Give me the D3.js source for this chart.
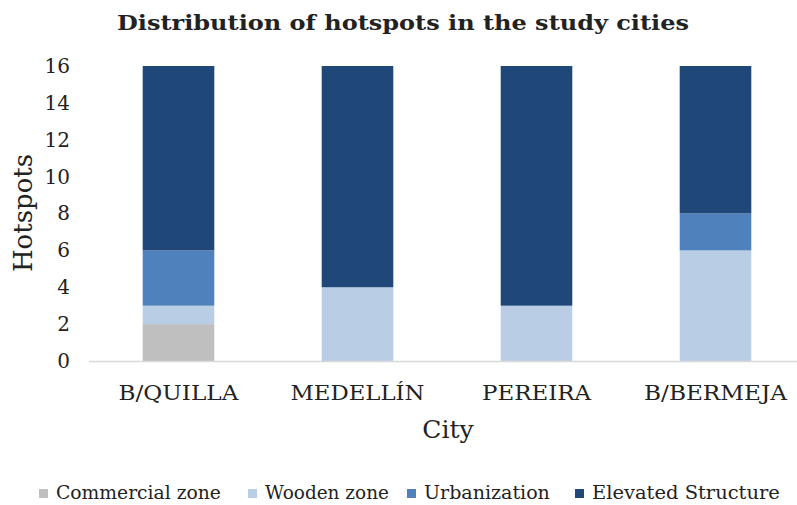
<!DOCTYPE html>
<html>
<head>
<meta charset="utf-8">
<script src="https://cdn.jsdelivr.net/npm/d3@7"></script>
<style>
  body { margin: 0; background: #fff; }
  svg { display: block; }
  text { font-family: "DejaVu Serif", serif; fill: #222; }
</style>
</head>
<body>
<svg id="chart"></svg>
<script>
const width = 797;
const height = 505;

// data
const cities = ["B/QUILLA", "MEDELLÍN", "PEREIRA", "B/BERMEJA"];
const seriesNames = ["Commercial zone", "Wooden zone", "Urbanization", "Elevated Structure"];
const commercial = [2, 0, 0, 0];
const wooden = [1, 4, 3, 6];
const urbanization = [3, 0, 0, 2];
const elevated = [10, 12, 13, 8];
const yTicks = [0, 2, 4, 6, 8, 10, 12, 14, 16];

const colors = ["#bfbfbf", "#b9cde5", "#4f81bd", "#1f4778"];

const margin = { top: 66, right: 0, bottom: 144, left: 89 };
const innerWidth = width - margin.left - margin.right;
const innerHeight = height - margin.top - margin.bottom;
// the category bands run a bit past the right edge, like the original
const bandSpan = 716;

const svg = d3.select("#chart")
  .attr("width", width)
  .attr("height", height);

// stretch a text horizontally to a target width (the original font is wider)
function stretch(sel, target, x, y) {
  const natural = sel.node().getComputedTextLength();
  const k = target / natural;
  sel.attr("transform", `translate(${x}, ${y}) scale(${k}, 1)`);
}

const graph = svg.append("g")
  .attr("transform", `translate(${margin.left}, ${margin.top})`);

// rows for the stack
const rows = cities.map((c, i) => ({
  city: c,
  "Commercial zone": commercial[i],
  "Wooden zone": wooden[i],
  "Urbanization": urbanization[i],
  "Elevated Structure": elevated[i]
}));
const stacked = d3.stack().keys(seriesNames)(rows);

const xScale = d3.scaleBand()
  .domain(cities)
  .range([0, bandSpan])
  .paddingInner(0.6)
  .paddingOuter(0.3);

const yScale = d3.scaleLinear()
  .domain([0, 16])
  .range([innerHeight, 0]);

// bars
graph.selectAll("g.layer")
  .data(stacked)
  .enter()
  .append("g")
  .attr("class", "layer")
  .attr("fill", (d, i) => colors[i])
  .selectAll("rect")
  .data(d => d)
  .enter()
  .append("rect")
  .attr("x", d => xScale(d.data.city))
  .attr("y", d => yScale(d[1]))
  .attr("width", xScale.bandwidth())
  .attr("height", d => yScale(d[0]) - yScale(d[1]));

// x axis
graph.append("line")
  .attr("x1", 0).attr("x2", innerWidth)
  .attr("y1", innerHeight + 0.5).attr("y2", innerHeight + 0.5)
  .attr("stroke", "#d9d9d9")
  .attr("stroke-width", 1.5);

const catWidths = [120, 134, 109, 143];
graph.append("g")
  .selectAll("text")
  .data(cities)
  .enter()
  .append("text")
  .attr("text-anchor", "middle")
  .style("font-size", "20px")
  .text(d => d)
  .each(function (d, i) {
    stretch(d3.select(this), catWidths[i], xScale(d) + xScale.bandwidth() / 2, innerHeight + 39);
  });

// y axis
const yAxis = graph.append("g")
  .call(d3.axisLeft(yScale).tickValues(yTicks).tickSize(0).tickPadding(19));
yAxis.select(".domain").remove();
yAxis.selectAll("text")
  .style("font-size", "20px")
  .style("font-family", "DejaVu Serif, serif")
  .attr("fill", "#222");

// title
const title = svg.append("text")
  .attr("text-anchor", "middle")
  .style("font-size", "21px")
  .style("font-weight", "bold")
  .text("Distribution of hotspots in the study cities");
stretch(title, 572, 403, 30);

// axis titles
svg.append("text")
  .attr("transform", "translate(32, 213) rotate(-90)")
  .attr("text-anchor", "middle")
  .style("font-size", "26px")
  .text("Hotspots");

svg.append("text")
  .attr("x", 448)
  .attr("y", 438)
  .attr("text-anchor", "middle")
  .style("font-size", "25px")
  .text("City");

// legend
const legendX = [39, 248, 407, 575];
const legendW = [165, 124, 126, 188];
const legend = svg.append("g");
seriesNames.forEach((name, i) => {
  legend.append("rect")
    .attr("x", legendX[i]).attr("y", 489)
    .attr("width", 9).attr("height", 9)
    .attr("fill", colors[i]);
  const t = legend.append("text")
    .style("font-size", "18px")
    .text(name);
  stretch(t, legendW[i], legendX[i] + 17, 499);
});
</script>
</body>
</html>
